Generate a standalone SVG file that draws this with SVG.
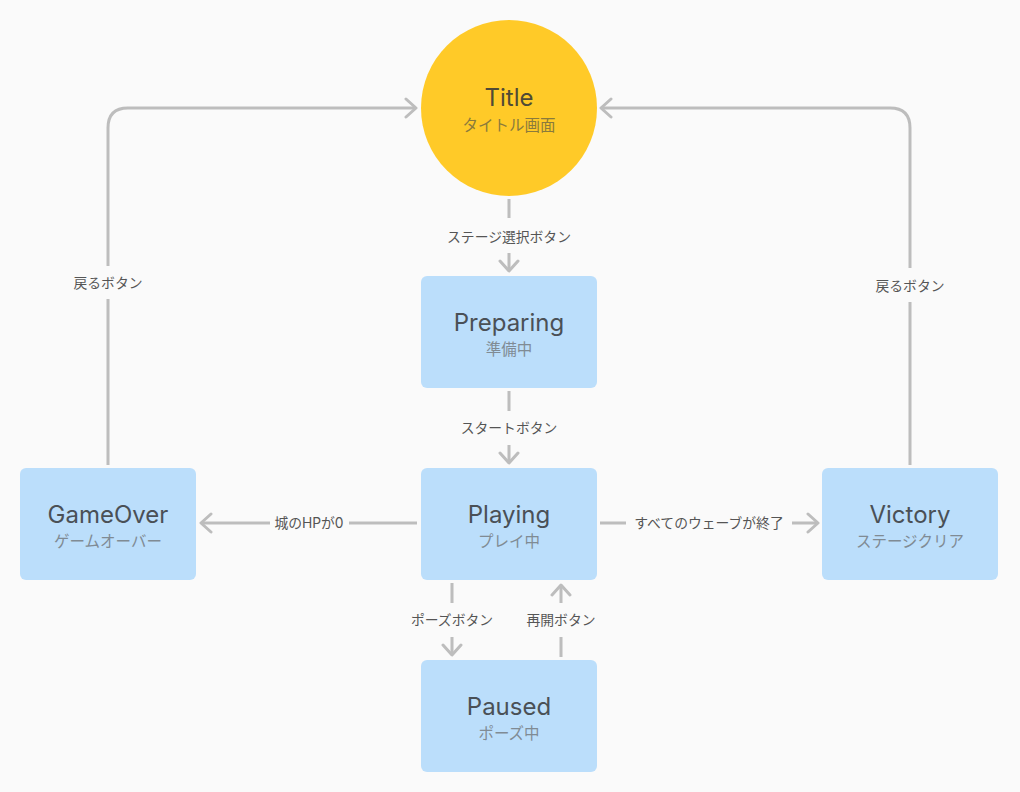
<svg xmlns="http://www.w3.org/2000/svg" width="1020" height="792" viewBox="0 0 1020 792">
<style>
.box{fill:#bbdefb}
.t{font-family:Inter,"Noto Sans","Noto Sans CJK JP",sans-serif;font-size:24px;fill:#4a5056;text-anchor:middle;font-weight:400}
.s{font-family:Inter,"Noto Sans CJK JP",sans-serif;font-size:15.5px;fill:#808b94;text-anchor:middle}
.ct{fill:#4f4a36}
.cs{fill:#8a7a3c}
.l{font-family:Inter,"Noto Sans CJK JP",sans-serif;font-size:13.8px;fill:#555;text-anchor:middle}
.c{fill:none;stroke:#bdbdbd;stroke-width:3}
</style>
<defs>
<marker id="ah" viewBox="-13 -11 15 22" refX="0" refY="0" markerWidth="15" markerHeight="22" markerUnits="userSpaceOnUse" orient="auto">
<path d="M-10,-9 L0,0 L-10,9" fill="none" stroke="#bdbdbd" stroke-width="3" stroke-linecap="round" stroke-linejoin="round"/>
</marker>
</defs>
<rect width="1020" height="792" fill="#fafafa"/>
<g id="connectors">
<line class="c" x1="509" y1="199" x2="509" y2="218"/>
<line class="c" x1="509" y1="253" x2="509" y2="271" marker-end="url(#ah)"/>
<text class="l" x="509" y="242">ステージ選択ボタン</text>
<line class="c" x1="509" y1="391" x2="509" y2="411"/>
<line class="c" x1="509" y1="445" x2="509" y2="463" marker-end="url(#ah)"/>
<text class="l" x="509" y="433">スタートボタン</text>
<line class="c" x1="417" y1="523" x2="349" y2="523"/>
<line class="c" x1="270" y1="523" x2="201" y2="523" marker-end="url(#ah)"/>
<text class="l" x="309" y="528">城のHPが0</text>
<line class="c" x1="600" y1="523" x2="626" y2="523"/>
<line class="c" x1="792" y1="523" x2="818" y2="523" marker-end="url(#ah)"/>
<text class="l" x="709" y="528">すべてのウェーブが終了</text>
<line class="c" x1="452" y1="583" x2="452" y2="603"/>
<line class="c" x1="452" y1="637" x2="452" y2="655" marker-end="url(#ah)"/>
<text class="l" x="452" y="625">ポーズボタン</text>
<line class="c" x1="561" y1="657" x2="561" y2="637"/>
<line class="c" x1="561" y1="603" x2="561" y2="585" marker-end="url(#ah)"/>
<text class="l" x="561" y="625">再開ボタン</text>
<path class="c" d="M108,465 V299"/>
<path class="c" d="M108,266 V128 Q108,108 128,108 H416" marker-end="url(#ah)"/>
<text class="l" x="108" y="288">戻るボタン</text>
<path class="c" d="M910,465 V302"/>
<path class="c" d="M910,268 V128 Q910,108 890,108 H601" marker-end="url(#ah)"/>
<text class="l" x="910" y="291">戻るボタン</text>
</g>
<g id="title">
<circle cx="509" cy="108" r="88" fill="#ffca28"/>
<text class="t ct" x="509" y="106">Title</text>
<text class="s cs" x="509" y="131">タイトル画面</text>
</g>
<g id="preparing">
<rect class="box" x="421" y="276" width="176" height="112" rx="6"/>
<text class="t" x="509" y="331">Preparing</text>
<text class="s" x="509" y="355">準備中</text>
</g>
<g id="playing">
<rect class="box" x="421" y="468" width="176" height="112" rx="6"/>
<text class="t" x="509" y="523">Playing</text>
<text class="s" x="509" y="547">プレイ中</text>
</g>
<g id="paused">
<rect class="box" x="421" y="660" width="176" height="112" rx="6"/>
<text class="t" x="509" y="715">Paused</text>
<text class="s" x="509" y="739">ポーズ中</text>
</g>
<g id="gameover">
<rect class="box" x="20" y="468" width="176" height="112" rx="6"/>
<text class="t" x="108" y="523">GameOver</text>
<text class="s" x="108" y="547">ゲームオーバー</text>
</g>
<g id="victory">
<rect class="box" x="822" y="468" width="176" height="112" rx="6"/>
<text class="t" x="910" y="523">Victory</text>
<text class="s" x="910" y="547">ステージクリア</text>
</g>
</svg>
